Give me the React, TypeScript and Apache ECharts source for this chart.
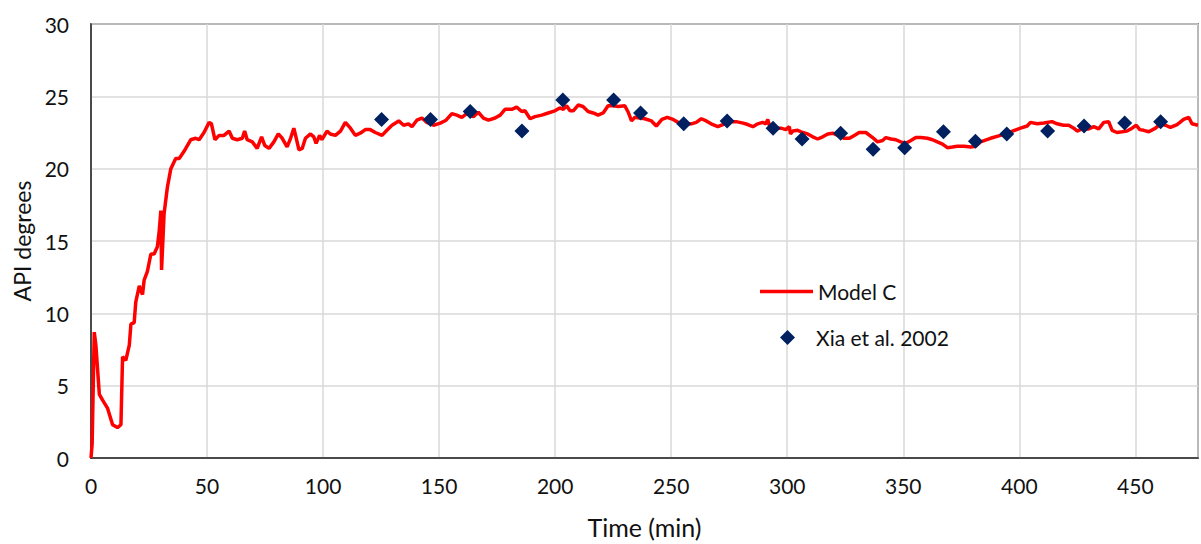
import React, { useEffect, useRef } from "react";
import * as echarts from "echarts";

const modelTime = [0,0.5,1.4,2.1,3.6,5,7.1,9.3,11.4,12.9,13.6,15,16.5,17.2,18.6,19.3,20.8,22.2,22.9,24.3,25.8,27.2,28.6,29.4,30.1,30.4,31.5,32.9,34.4,36.5,38,40.1,43,45.1,46.6,48.7,50.9,51.9,53.4,55.2,57.3,59.5,60.9,63,65.2,66.2,67.3,69.5,71.6,73.5,74.9,76.7,78.8,80.7,82.4,84.5,86,87.4,88.3,89.6,91,92.4,94.6,96,97,98.5,99.5,101.7,103.1,105.3,107.5,109.6,111.8,113.9,116,118.2,120.3,122.5,125.4,127.5,129.7,132.6,134.7,136.8,138.3,140.4,142.6,144.7,147.6,150.5,153,155.5,157.6,159.8,161.9,164.8,166.9,169.1,171.3,174.1,176.3,178.4,181.3,183.4,185.6,187,189.2,191.3,194.2,197,199.9,202,203.5,204.9,206.4,207.8,209.9,212,214.2,216.4,218.5,220.7,222.8,225,227.2,230,231.5,232.9,234.3,236.4,238.6,241.5,243.6,246,248.3,250.8,253,255.8,258.7,260.8,263,265.1,267.2,270.1,273,275.2,278,281,283,285.2,287.3,289.4,290.8,291.6,292.3,294.5,297.3,299.4,300.9,301.4,302.4,304.5,306.7,308.8,311,313.1,315.3,317.5,319.6,321.8,324.6,326.8,328.9,331,333.9,336.8,338.9,341.1,342.5,344.7,346.8,348.9,351.1,353.3,355.4,357.6,360.4,362.6,364.7,366.9,369,371.2,373.3,376.2,379,381.2,383.3,387.6,391.9,396.2,400.5,403.4,404.8,407.7,410.6,414.1,416.3,419.1,421.3,423.5,424.9,427,429.9,432.1,434.2,436.4,438.5,440,442.1,444.3,446.4,448.6,450.4,451.9,453.6,455.8,458.7,460.8,463,465.1,468,470.8,473,474.4,477];
const modelApi = [0,1.0,8.7,7.8,4.4,4.0,3.45,2.3,2.1,2.3,7.0,6.75,7.8,9.25,9.36,10.8,11.9,11.3,12.3,12.9,14.1,14.1,14.6,15.7,17.1,13.0,16.9,18.7,20.0,20.7,20.7,21.2,22.0,22.1,22.0,22.5,23.2,23.1,22.0,22.3,22.3,22.6,22.1,22.0,22.1,22.6,22.0,21.85,21.4,22.2,21.6,21.4,21.85,22.4,22.1,21.5,22.1,22.8,22.2,21.3,21.4,22.1,22.4,22.2,21.75,22.3,22.0,22.6,22.4,22.3,22.6,23.2,22.8,22.3,22.45,22.7,22.7,22.5,22.3,22.65,23.0,23.3,23.0,23.1,22.9,23.35,23.5,23.2,23.0,23.15,23.35,23.8,23.7,23.55,23.8,23.6,23.9,23.5,23.35,23.5,23.7,24.1,24.1,24.25,23.95,24.0,23.45,23.6,23.7,23.85,24.0,24.2,24.1,24.35,24.0,24.0,24.4,24.3,23.95,23.85,23.7,23.85,24.35,24.35,24.3,24.35,23.9,23.3,23.55,23.5,23.45,23.3,22.95,23.4,23.55,23.4,23.2,23.05,23.1,23.2,23.45,23.3,23.1,22.9,23.1,23.25,23.25,23.15,23.05,22.9,23.1,23.2,23.1,23.4,23.0,22.8,22.8,22.7,22.9,22.4,22.6,22.65,22.5,22.4,22.2,22.05,22.2,22.4,22.45,22.3,22.1,22.1,22.3,22.5,22.5,22.15,21.85,21.95,22.15,22.05,22.0,21.85,21.75,21.95,22.15,22.15,22.1,22.0,21.85,21.7,21.45,21.5,21.55,21.55,21.5,21.55,21.85,22.1,22.3,22.55,22.8,22.95,23.2,23.1,23.15,23.25,23.1,23.0,23.0,22.8,22.6,22.75,22.75,22.9,22.75,23.2,23.25,22.65,22.5,22.55,22.6,22.8,23.0,22.7,22.65,22.55,22.8,23.1,23.0,22.85,23.05,23.4,23.55,23.1,23.0];

const xiaTime = [125.2,146.3,163.4,185.7,203.3,225.2,236.8,255.4,274.1,293.9,306.4,323,337,350.6,367.3,381.1,394.6,412.2,427.9,445.4,460.9];
const xiaApi = [23.4,23.4,23.95,22.6,24.75,24.75,23.85,23.1,23.3,22.8,22.05,22.45,21.35,21.45,22.55,21.9,22.4,22.6,22.95,23.15,23.25];

const xTickStep = 50;
const yTicks = [0, 5, 10, 15, 20, 25, 30];

const FONT = "Lato, 'Open Sans', sans-serif";
const TEXT = "#111111";

export default function App() {
  const ref = useRef<HTMLDivElement>(null);
  useEffect(() => {
    if (!ref.current) return;
    const chart = echarts.init(ref.current, undefined, { renderer: "svg" });
    const modelData = modelTime.map((t, i) => [t, modelApi[i]]);
    const xiaData = xiaTime.map((t, i) => [t, xiaApi[i]]);
    chart.setOption({
      animation: false,
      backgroundColor: "#ffffff",
      textStyle: { fontFamily: FONT },
      grid: {
        left: 91,
        top: 24,
        right: -3,
        bottom: 80,
        show: true,
        borderColor: "#262626",
        borderWidth: 1.5,
      },
      legend: [
        {
          data: [{ name: "Model C", icon: "rect" }],
          left: 755,
          top: 276,
          itemWidth: 53,
          itemHeight: 3.5,
          textStyle: { fontFamily: FONT, fontSize: 21, color: TEXT },
        },
        {
          data: [{ name: "Xia et al. 2002", icon: "diamond" }],
          left: 775,
          top: 322,
          itemWidth: 15,
          itemHeight: 15,
          textStyle: { fontFamily: FONT, fontSize: 21, color: TEXT, padding: [0, 0, 0, 16] },
        },
      ],
      xAxis: {
        type: "value",
        min: 0,
        max: 477,
        interval: xTickStep,
        name: "Time (min)",
        nameLocation: "middle",
        nameGap: 56,
        nameTextStyle: { fontFamily: FONT, fontSize: 25, color: TEXT },
        axisLine: { show: true, lineStyle: { color: "#262626", width: 1.5 } },
        axisTick: { show: false },
        axisLabel: {
          fontFamily: FONT,
          fontSize: 21,
          color: TEXT,
          margin: 17,
          formatter: (v: number) => (v % xTickStep === 0 ? String(v) : ""),
        },
        splitLine: { show: true, lineStyle: { color: "#d9d9d9", width: 1.5 } },
      },
      yAxis: {
        type: "value",
        min: yTicks[0],
        max: yTicks[yTicks.length - 1],
        interval: 5,
        name: "API degrees",
        nameLocation: "middle",
        nameRotate: 90,
        nameGap: 57,
        nameTextStyle: { fontFamily: FONT, fontSize: 23, color: TEXT },
        axisLine: { show: true, lineStyle: { color: "#262626", width: 1.5 } },
        axisTick: { show: false },
        axisLabel: { fontFamily: FONT, fontSize: 21, color: TEXT, margin: 22 },
        splitLine: { show: true, lineStyle: { color: "#d9d9d9", width: 1.5 } },
      },
      series: [
        {
          name: "Model C",
          type: "line",
          data: modelData,
          symbol: "none",
          showSymbol: false,
          lineStyle: { color: "#ff0000", width: 3.5 },
          itemStyle: { color: "#ff0000" },
          z: 2,
        },
        {
          name: "Xia et al. 2002",
          type: "scatter",
          data: xiaData,
          symbol: "diamond",
          symbolSize: 15,
          itemStyle: { color: "#002060", opacity: 1 },
          z: 3,
        },
      ],
    });
    return () => chart.dispose();
  }, []);
  return (
    <div
      ref={ref}
      style={{ position: "absolute", left: 0, top: 0, width: 1201, height: 544 }}
    />
  );
}
